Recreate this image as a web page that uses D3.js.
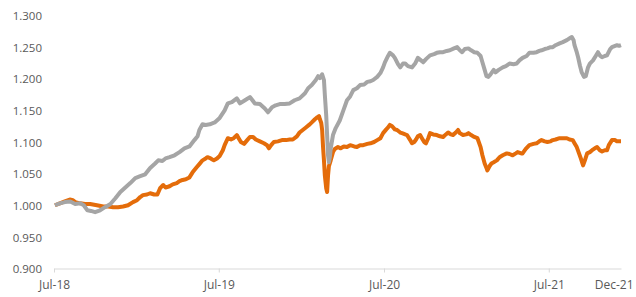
<!DOCTYPE html>
<html>
<head>
<meta charset="utf-8">
<script src="https://cdn.jsdelivr.net/npm/d3@7"></script>
<style>
  body { margin: 0; background: #fff; }
  text { font-family: "Open Sans", sans-serif; font-size: 11.5px; fill: #595959; }
</style>
</head>
<body>
<div id="chart"></div>
<script>
// tick labels
const yTicks = [0.9, 0.95, 1.0, 1.05, 1.1, 1.15, 1.2, 1.25, 1.3];
const xTicks = ["2018-07-01", "2019-07-01", "2020-07-01", "2021-07-01", "2021-12-08"];

// grey series
const greyDates = ["2018-07-03","2018-07-14","2018-07-25","2018-08-06","2018-08-17","2018-08-28","2018-09-05","2018-09-13","2018-09-21","2018-09-30",
  "2018-10-11","2018-10-22","2018-11-03","2018-11-14","2018-11-25","2018-12-06","2018-12-17","2018-12-28","2019-01-08","2019-01-19",
  "2019-01-30","2019-02-10","2019-02-17","2019-02-26","2019-03-05","2019-03-14","2019-03-25","2019-04-05","2019-04-16","2019-04-27",
  "2019-05-08","2019-05-15","2019-05-19","2019-05-26","2019-06-02","2019-06-11","2019-06-22","2019-07-03","2019-07-14","2019-07-21",
  "2019-07-30","2019-08-10","2019-08-17","2019-08-28","2019-09-08","2019-09-19","2019-09-30","2019-10-11","2019-10-18","2019-10-27",
  "2019-11-04","2019-11-13","2019-11-24","2019-12-05","2019-12-16","2019-12-27","2020-01-08","2020-01-15","2020-01-23","2020-02-01",
  "2020-02-06","2020-02-10","2020-02-15","2020-02-19","2020-02-21","2020-02-24","2020-02-26","2020-02-28","2020-03-01","2020-03-03",
  "2020-03-05","2020-03-10","2020-03-16","2020-03-25","2020-04-02","2020-04-10","2020-04-17","2020-04-24","2020-05-02","2020-05-09",
  "2020-05-18","2020-05-25","2020-06-01","2020-06-07","2020-06-16","2020-06-23","2020-06-29","2020-07-03","2020-07-10","2020-07-14",
  "2020-07-21","2020-07-25","2020-08-01","2020-08-06","2020-08-12","2020-08-17","2020-08-23","2020-09-01","2020-09-08","2020-09-14",
  "2020-09-21","2020-09-26","2020-10-02","2020-10-11","2020-10-20","2020-10-26","2020-11-02","2020-11-09","2020-11-17","2020-11-24",
  "2020-12-03","2020-12-10","2020-12-16","2020-12-21","2020-12-27","2021-01-04","2021-01-10","2021-01-17","2021-01-24","2021-01-31",
  "2021-02-04","2021-02-09","2021-02-13","2021-02-17","2021-02-22","2021-03-01","2021-03-05","2021-03-12","2021-03-21","2021-03-28",
  "2021-04-05","2021-04-14","2021-04-21","2021-04-27","2021-05-04","2021-05-13","2021-05-19","2021-05-28","2021-06-04","2021-06-10",
  "2021-06-15","2021-06-22","2021-06-28","2021-07-05","2021-07-10","2021-07-16","2021-07-25","2021-08-01","2021-08-10","2021-08-16",
  "2021-08-21","2021-08-25","2021-08-27","2021-09-01","2021-09-04","2021-09-08","2021-09-12","2021-09-17","2021-09-21","2021-09-26",
  "2021-09-30","2021-10-07","2021-10-13","2021-10-18","2021-10-22","2021-10-27","2021-11-02","2021-11-07","2021-11-14","2021-11-18",
  "2021-11-25","2021-11-29","2021-12-04","2021-12-08"];
const greyValues = [1.000,1.003,1.005,1.006,1.002,1.003,1.000,0.992,0.991,0.989,
  0.992,0.997,1.002,1.011,1.021,1.028,1.035,1.043,1.046,1.049,
  1.059,1.066,1.071,1.070,1.074,1.076,1.079,1.084,1.090,1.093,
  1.103,1.109,1.119,1.128,1.127,1.128,1.131,1.138,1.150,1.161,
  1.163,1.169,1.161,1.166,1.171,1.161,1.160,1.153,1.147,1.155,
  1.158,1.160,1.160,1.161,1.166,1.169,1.177,1.185,1.190,1.198,
  1.204,1.201,1.207,1.198,1.174,1.142,1.111,1.079,1.068,1.076,
  1.090,1.111,1.122,1.134,1.150,1.166,1.172,1.182,1.185,1.190,
  1.191,1.195,1.196,1.198,1.203,1.209,1.218,1.226,1.236,1.241,
  1.237,1.233,1.223,1.218,1.224,1.224,1.220,1.218,1.224,1.233,
  1.229,1.226,1.231,1.237,1.239,1.241,1.242,1.242,1.244,1.245,
  1.248,1.250,1.245,1.242,1.247,1.248,1.245,1.242,1.241,1.236,
  1.226,1.214,1.204,1.203,1.207,1.214,1.210,1.214,1.218,1.220,
  1.224,1.223,1.224,1.229,1.233,1.236,1.241,1.241,1.242,1.244,
  1.245,1.247,1.248,1.250,1.250,1.253,1.256,1.258,1.261,1.264,
  1.266,1.261,1.253,1.242,1.234,1.221,1.210,1.203,1.204,1.218,
  1.224,1.229,1.236,1.242,1.237,1.234,1.236,1.237,1.247,1.250,
  1.252,1.253,1.252,1.253];

// orange series
const orangeDates = ["2018-07-03","2018-07-14","2018-07-25","2018-08-05","2018-08-12","2018-08-17","2018-08-28","2018-09-08","2018-09-19","2018-10-04",
  "2018-10-18","2018-10-29","2018-11-09","2018-11-20","2018-12-01","2018-12-12","2018-12-23","2019-01-01","2019-01-08","2019-01-14",
  "2019-01-23","2019-01-30","2019-02-08","2019-02-15","2019-02-21","2019-02-28","2019-03-05","2019-03-14","2019-03-21","2019-03-30",
  "2019-04-05","2019-04-12","2019-04-19","2019-04-27","2019-05-04","2019-05-13","2019-05-19","2019-05-26","2019-06-02","2019-06-06",
  "2019-06-13","2019-06-20","2019-06-27","2019-07-03","2019-07-10","2019-07-14","2019-07-21","2019-07-28","2019-08-03","2019-08-10",
  "2019-08-14","2019-08-19","2019-08-26","2019-09-02","2019-09-08","2019-09-15","2019-09-21","2019-09-30","2019-10-09","2019-10-16",
  "2019-10-20","2019-10-25","2019-10-31","2019-11-09","2019-11-18","2019-11-27","2019-12-05","2019-12-12","2019-12-21","2019-12-27",
  "2020-01-03","2020-01-10","2020-01-17","2020-01-23","2020-01-30","2020-02-04","2020-02-08","2020-02-10","2020-02-13","2020-02-15",
  "2020-02-17","2020-02-19","2020-02-21","2020-02-24","2020-02-26","2020-02-28","2020-03-01","2020-03-05","2020-03-10","2020-03-14",
  "2020-03-21","2020-03-27","2020-04-03","2020-04-10","2020-04-17","2020-04-26","2020-05-02","2020-05-09","2020-05-16","2020-05-25",
  "2020-06-01","2020-06-09","2020-06-16","2020-06-23","2020-06-29","2020-07-06","2020-07-10","2020-07-14","2020-07-19","2020-07-25",
  "2020-07-30","2020-08-06","2020-08-10","2020-08-17","2020-08-21","2020-08-28","2020-09-01","2020-09-06","2020-09-10","2020-09-14",
  "2020-09-19","2020-09-23","2020-09-28","2020-10-02","2020-10-07","2020-10-11","2020-10-18","2020-10-26","2020-11-02","2020-11-09",
  "2020-11-15","2020-11-20","2020-11-26","2020-12-01","2020-12-07","2020-12-12","2020-12-16","2020-12-23","2020-12-30","2021-01-04",
  "2021-01-10","2021-01-17","2021-01-24","2021-01-31","2021-02-04","2021-02-09","2021-02-13","2021-02-15","2021-02-20","2021-02-24",
  "2021-03-01","2021-03-08","2021-03-14","2021-03-21","2021-03-30","2021-04-05","2021-04-12","2021-04-19","2021-04-23","2021-05-01",
  "2021-05-04","2021-05-11","2021-05-19","2021-05-28","2021-06-04","2021-06-10","2021-06-15","2021-06-22","2021-06-28","2021-07-05",
  "2021-07-10","2021-07-16","2021-07-25","2021-08-01","2021-08-10","2021-08-16","2021-08-23","2021-08-27","2021-09-01","2021-09-06",
  "2021-09-10","2021-09-15","2021-09-19","2021-09-24","2021-09-30","2021-10-05","2021-10-11","2021-10-16","2021-10-22","2021-10-27",
  "2021-11-02","2021-11-07","2021-11-11","2021-11-18","2021-11-25","2021-11-29","2021-12-04","2021-12-08"];
const orangeValues = [1.000,1.003,1.006,1.009,1.008,1.005,1.003,1.002,1.002,1.000,
  0.998,0.998,0.997,0.997,0.998,1.000,1.005,1.008,1.013,1.016,
  1.017,1.019,1.017,1.017,1.027,1.032,1.028,1.030,1.033,1.035,
  1.038,1.040,1.041,1.044,1.052,1.060,1.065,1.071,1.074,1.076,
  1.074,1.071,1.074,1.078,1.087,1.095,1.106,1.104,1.106,1.111,
  1.106,1.100,1.097,1.103,1.108,1.108,1.104,1.101,1.098,1.095,
  1.090,1.095,1.100,1.101,1.103,1.103,1.104,1.104,1.109,1.115,
  1.119,1.123,1.127,1.131,1.136,1.139,1.141,1.136,1.130,1.119,
  1.092,1.071,1.047,1.027,1.021,1.047,1.062,1.071,1.084,1.089,
  1.092,1.090,1.093,1.092,1.095,1.093,1.092,1.095,1.095,1.097,
  1.098,1.100,1.103,1.106,1.114,1.120,1.123,1.127,1.125,1.120,
  1.119,1.115,1.114,1.112,1.111,1.103,1.098,1.100,1.104,1.109,
  1.111,1.106,1.100,1.098,1.106,1.114,1.112,1.111,1.109,1.108,
  1.112,1.115,1.112,1.111,1.115,1.119,1.114,1.111,1.112,1.114,
  1.111,1.108,1.106,1.092,1.079,1.066,1.059,1.055,1.062,1.066,
  1.068,1.071,1.076,1.079,1.082,1.081,1.079,1.082,1.084,1.082,
  1.082,1.089,1.095,1.097,1.098,1.101,1.103,1.101,1.100,1.101,
  1.103,1.104,1.106,1.106,1.106,1.104,1.103,1.098,1.092,1.082,
  1.074,1.063,1.071,1.082,1.084,1.087,1.090,1.092,1.087,1.085,
  1.087,1.087,1.095,1.103,1.103,1.101,1.101,1.101];

const width = 636, height = 297;
const parse = d3.timeParse("%Y-%m-%d");

const svg = d3.select("#chart")
  .append("svg")
  .attr("width", width)
  .attr("height", height);

var x = d3.scaleTime()
  .domain([parse("2018-07-01"), parse("2021-12-08")])
  .range([54, 621]);

var y = d3.scaleLinear()
  .domain([0.9, 1.3])
  .range([268.5, 15.5]);

// y labels (no axis line, no gridlines)
svg.append("g")
  .attr("transform", "translate(42,0)")
  .call(d3.axisLeft(y).tickValues(yTicks).tickFormat(d3.format(".3f")).tickSize(0).tickPadding(0))
  .call(g => g.select(".domain").remove())
  .selectAll("text")
  .attr("dy", "0.36em");

// x axis
const xAxis = svg.append("g")
  .attr("transform", "translate(0,268.5)")
  .call(d3.axisBottom(x).tickValues(xTicks.map(parse)).tickFormat(d3.timeFormat("%b-%y")).tickSizeInner(4).tickSizeOuter(0).tickPadding(8));
xAxis.select(".domain").attr("stroke", "#d9d9d9");
xAxis.selectAll(".tick line").attr("stroke", "#d9d9d9");
xAxis.selectAll("text").style("font-size", "12px");
// last label sits left of the end so it fits the frame
const lastTick = xAxis.selectAll(".tick").filter((d, i, n) => i === n.length - 1);
lastTick.select("line").remove();
lastTick.select("text").attr("text-anchor", "end").attr("x", 12);

const line = d3.line()
  .x(d => x(d[0]))
  .y(d => y(d[1]));

const orange = orangeDates.map((d, i) => [parse(d), orangeValues[i]]);
const grey = greyDates.map((d, i) => [parse(d), greyValues[i]]);

svg.append("path")
  .datum(orange)
  .attr("d", line)
  .attr("fill", "none")
  .attr("stroke", "#e46c0a")
  .attr("stroke-width", 4)
  .attr("stroke-linejoin", "round");

svg.append("path")
  .datum(grey)
  .attr("d", line)
  .attr("fill", "none")
  .attr("stroke", "#a5a5a5")
  .attr("stroke-width", 4)
  .attr("stroke-linejoin", "round");
</script>
</body>
</html>
